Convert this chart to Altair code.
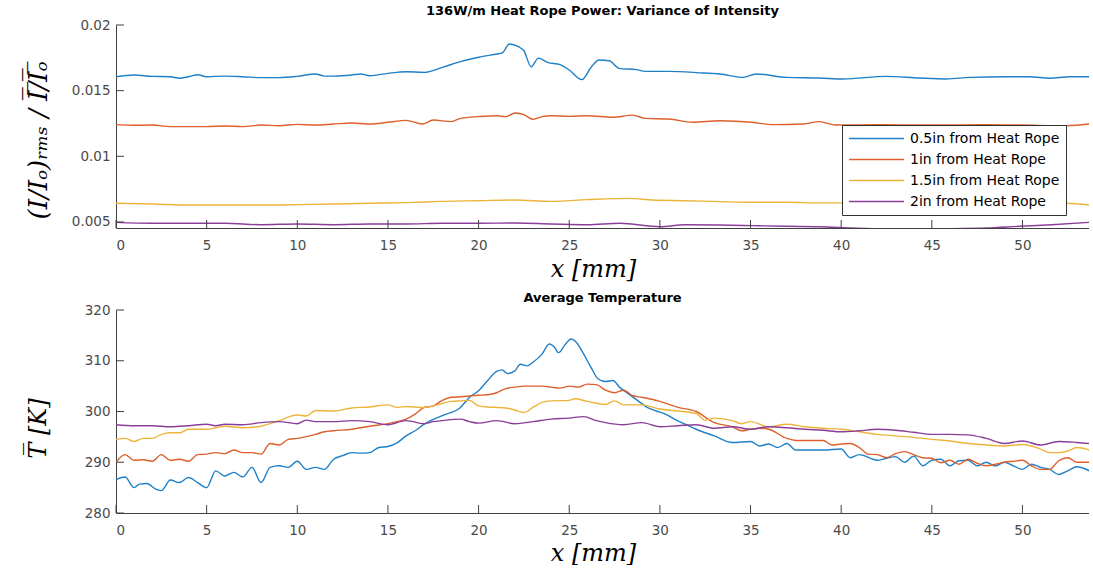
import altair as alt
import pandas as pd

series_names = ["0.5in from Heat Rope", "1in from Heat Rope",
                "1.5in from Heat Rope", "2in from Heat Rope"]
colors = ["#1f80c8", "#dd5f2c", "#edb43a", "#8a3e99"]

x_ticks = [0, 5, 10, 15, 20, 25, 30, 35, 40, 45, 50]
top_y_ticks = [0.005, 0.01, 0.015, 0.02]
bot_y_ticks = [280, 290, 300, 310, 320]

# ---------- top panel: variance of intensity ----------
top_blue_x = [0, 1, 2, 3, 3.5, 4, 4.5, 5, 6, 7, 8, 9, 10, 11, 11.5, 12, 13, 13.5, 14, 15,
              16, 17, 18, 19, 20, 21, 21.3, 21.7, 22.2, 22.5, 22.9, 23.3, 23.8, 24.5, 25,
              25.7, 26.2, 26.65, 27.2, 27.75, 28.7, 29.2, 30.5, 32.4, 33.3, 34.6, 35.3, 37,
              38.8, 40.1, 42.5, 44.3, 45.8, 47.1, 49, 50.4, 51.5, 52.6, 53.7]
top_blue_y = [0.01606, 0.01619, 0.01609, 0.01606, 0.01594, 0.01606, 0.01621, 0.01606,
              0.01611, 0.01606, 0.01599, 0.01599, 0.01609, 0.01627, 0.01611, 0.01611,
              0.01619, 0.01627, 0.01614, 0.01632, 0.01644, 0.01639, 0.01677, 0.01721,
              0.01754, 0.01779, 0.01787, 0.01855, 0.01835, 0.01804, 0.01682, 0.01748,
              0.01715, 0.01698, 0.01657, 0.01584, 0.01677, 0.01733, 0.01728, 0.01670,
              0.01660, 0.01647, 0.01647, 0.01634, 0.01627, 0.01601, 0.01627, 0.01601,
              0.01596, 0.01589, 0.01609, 0.01596, 0.01589, 0.01601, 0.01606, 0.01606,
              0.01594, 0.01606, 0.01606]

top_orange_x = [0, 1, 2, 3, 4, 5, 6, 7, 8, 9, 10, 11, 12, 13, 14, 15, 16, 16.9, 17.5, 18.5,
                19, 20, 21, 21.5, 22, 22.5, 23, 23.5, 24, 25, 26, 27.4, 28.5, 29.2, 30.5,
                31.8, 33.3, 35.1, 36.2, 37.9, 38.8, 39.7, 42, 45, 48, 50, 52.4, 53.7]
top_orange_y = [0.01241, 0.01236, 0.01238, 0.01226, 0.01226, 0.01226, 0.01231, 0.01226,
                0.01238, 0.01233, 0.01243, 0.01238, 0.01246, 0.01254, 0.01246, 0.01259,
                0.01274, 0.01246, 0.01276, 0.01264, 0.01289, 0.01302, 0.01309, 0.01302,
                0.01330, 0.01317, 0.01282, 0.01302, 0.01309, 0.01304, 0.01309, 0.01297,
                0.01314, 0.01289, 0.01284, 0.01259, 0.01271, 0.01259, 0.01241, 0.01246,
                0.01264, 0.01238, 0.01241, 0.01238, 0.01241, 0.01238, 0.01233, 0.01246]

top_yellow_x = [0, 2, 4, 6, 8, 10, 12, 14, 16, 18, 20, 22, 24, 26, 28.3, 29.6, 31.4, 33.3,
                35.1, 37, 38.8, 42, 46, 50, 52.4, 53.7]
top_yellow_y = [0.00642, 0.00637, 0.00629, 0.00629, 0.00629, 0.00632, 0.00637, 0.00642,
                0.00647, 0.00657, 0.00662, 0.00667, 0.00657, 0.00670, 0.00680, 0.00667,
                0.00662, 0.00655, 0.00650, 0.00650, 0.00645, 0.00645, 0.00642, 0.00642,
                0.00642, 0.00629]

top_purple_x = [0, 2, 4, 6, 8, 10, 12, 14, 16, 18, 20, 22, 24, 26, 27.8, 30, 31.4, 33.3,
                35.1, 37, 38.8, 40.6, 42.5, 44.3, 46.1, 48, 49.8, 51.6, 53.7]
top_purple_y = [0.00497, 0.00490, 0.00490, 0.00490, 0.00479, 0.00485, 0.00479, 0.00485,
                0.00485, 0.00490, 0.00490, 0.00492, 0.00485, 0.00479, 0.00490, 0.00464,
                0.00479, 0.00477, 0.00472, 0.00467, 0.00464, 0.00454, 0.00446, 0.00444,
                0.00449, 0.00454, 0.00467, 0.00479, 0.00497]

# ---------- bottom panel: average temperature ----------
bot_blue_x = [0, 0.3, 0.5, 1, 1.3, 1.7, 2.2, 2.5, 3, 3.5, 4, 4.5, 5, 5.5, 6, 6.5, 7, 7.5, 8,
              8.5, 9, 9.5, 10, 10.5, 11, 11.5, 12, 12.5, 13, 13.5, 14, 14.5, 15, 15.5, 16,
              16.5, 17, 18, 19, 19.5, 20, 20.5, 21, 21.3, 21.6, 22, 22.3, 22.7, 23, 23.5,
              23.9, 24.2, 24.4, 24.8, 25.1, 25.4, 25.8, 26.2, 26.6, 27, 27.4, 27.8, 28.3,
              28.8, 29.3, 29.8, 30.3, 30.8, 31.4, 32, 33, 34, 35, 35.5, 36, 36.5, 37, 37.5,
              38, 39, 40, 40.5, 41, 42, 43, 43.5, 44, 44.5, 45, 45.5, 46, 46.5, 47, 47.5,
              48, 48.5, 49, 49.5, 50, 50.5, 51, 51.5, 52, 52.5, 53, 53.7]
bot_blue_y = [286.5, 287, 287.1, 285, 285.7, 285.8, 284.7, 284.4, 286.5, 286, 287, 286, 285,
              288.3, 287.3, 288, 287.1, 289, 286, 289, 289.3, 289, 290.2, 288.6, 289, 288.6,
              290.6, 291.3, 291.9, 291.8, 291.9, 292.9, 293.1, 293.8, 295.2, 296.2, 297.5,
              299.2, 300.8, 302.8, 304.1, 306.1, 307.9, 308.2, 307.5, 308, 309.3, 309, 309.7,
              311.3, 313.3, 312.6, 311.6, 313.3, 314.3, 313.6, 311.3, 308.7, 306.4, 305.9,
              306.1, 304.7, 303.4, 302.1, 300.8, 300.1, 299.5, 298.5, 297.5, 296.5, 295.2,
              293.9, 294.1, 293.2, 293.6, 292.9, 293.7, 292.4, 292.4, 292.4, 292.6, 290.9,
              291.5, 290.4, 291.1, 290, 291.2, 289.3, 290.4, 290.6, 289.3, 290.3, 290.4,
              289.3, 290, 289.3, 290, 289.3, 288.6, 289.6, 289, 288.6, 287.6, 288.3, 289.1,
              288.3]

bot_orange_x = [0, 0.5, 1, 1.5, 2, 2.5, 3, 3.5, 4, 4.5, 5, 5.5, 6, 6.5, 7, 7.5, 8, 8.5, 9,
                9.5, 10, 11, 11.5, 12, 13, 14, 15, 15.5, 16, 16.5, 17, 17.5, 18, 18.5, 19,
                20, 20.5, 21, 21.5, 22, 22.5, 23, 23.5, 24, 24.5, 25, 25.5, 26, 26.5, 27,
                27.5, 28, 28.5, 29, 30, 31, 32, 33, 34, 34.5, 35, 35.5, 36, 37, 37.5, 38,
                39, 39.5, 40, 40.5, 41, 41.5, 42, 42.5, 43, 43.5, 44, 44.5, 45, 45.5, 46,
                46.5, 47, 47.5, 48, 48.5, 49, 49.5, 50, 50.5, 51, 51.5, 52, 52.5, 53, 53.7]
bot_orange_y = [290, 291.5, 290.4, 290.5, 290.2, 291.5, 290.4, 290.6, 290.2, 291.5, 291.6,
                291.9, 291.7, 292.4, 291.9, 291.9, 291.6, 293.7, 293.4, 294.5, 294.7, 295.5,
                296, 296.2, 296.5, 297.1, 297.6, 298, 298.5, 299.5, 300.8, 301.1, 302.2,
                302.8, 302.9, 303.2, 303.3, 303.7, 304.5, 304.8, 305, 305, 305, 304.8, 304.6,
                305, 304.8, 305.4, 305.3, 304.2, 303.7, 304.2, 303.1, 302.8, 302, 300.8, 300,
                297.8, 297, 296.2, 296.5, 296.7, 296.5, 294.7, 294.3, 294.3, 294.3, 293.4,
                293.6, 293.7, 292.9, 291.6, 291.5, 290.9, 291.7, 292.1, 291.5, 290.9, 290.8,
                289.9, 290.4, 289.6, 290.6, 289.8, 289.3, 289.6, 290, 290.2, 290.4, 289.3,
                288.6, 288.6, 290.3, 290.9, 290, 290]

bot_yellow_x = [0, 0.5, 1, 1.5, 2, 2.5, 3, 3.5, 4, 5, 5.5, 6, 7, 8, 9, 10, 10.5, 11, 12, 13,
                14, 15, 15.5, 16, 17, 17.5, 18.5, 19, 19.5, 20, 20.5, 21, 21.5, 22, 22.5, 23,
                23.5, 24, 25, 25.3, 26, 27, 27.5, 28, 29, 30, 31, 32, 32.5, 33, 34, 34.5, 35,
                36, 37, 38, 39, 40, 41, 42, 43, 44, 45, 46, 47, 48, 49, 50, 51, 51.5, 52,
                52.5, 53, 53.7]
bot_yellow_y = [294.5, 294.7, 294.1, 294.7, 294.7, 295.5, 295.8, 295.8, 296.5, 296.5, 296.8,
                297.1, 296.8, 297.1, 298.2, 299.3, 299.1, 300.2, 300.1, 300.7, 300.9, 301.3,
                300.8, 301, 300.8, 301.1, 302, 302.1, 302.2, 301.1, 300.9, 300.8, 300.7,
                300.3, 299.8, 300.8, 301.8, 302.1, 302.2, 302.5, 302, 301.4, 302.1, 301.3,
                301.3, 300.5, 300.1, 299.6, 298.3, 298.7, 298.2, 297.6, 298, 297, 297.5, 297,
                296.7, 296.5, 296, 295.5, 295.2, 294.9, 294.5, 294.2, 293.7, 293.4, 293.2,
                293.5, 292.6, 291.9, 291.9, 292.2, 292.9, 292.4]

bot_purple_x = [0, 1, 2, 3, 4, 5, 5.5, 6, 7, 8, 9, 10, 10.5, 11, 12, 13, 14, 15, 16, 17,
                17.5, 18, 19, 19.5, 20, 21, 22, 23, 24, 25, 25.8, 26.5, 27, 28, 29, 30, 31,
                32, 33, 34, 35, 36, 37, 38, 39, 40, 41, 42, 43, 44, 45, 46, 47, 48, 49, 50,
                51, 52, 53, 53.7]
bot_purple_y = [297.4, 297.2, 297.2, 297, 297.2, 297.5, 297.2, 297.5, 297.4, 297.8, 298,
                297.6, 298.3, 298, 298, 298.2, 298, 297.4, 298.2, 297.6, 298, 298.2, 298.5,
                298, 297.7, 298.2, 297.6, 298, 298.5, 298.7, 299, 298.2, 297.8, 297.4, 297.8,
                297, 297.2, 297.4, 296.7, 297, 296.5, 297, 296.8, 296.5, 296.3, 296, 296.2,
                296.5, 296.3, 295.9, 295.5, 295.5, 295.4, 294.7, 293.7, 294.2, 293.4, 294.1,
                293.9, 293.7]


def frame(xs_list, ys_list):
    rows = []
    for name, xs, ys in zip(series_names, xs_list, ys_list):
        for a, b in zip(xs, ys):
            rows.append({"x": a, "y": b, "series": name})
    return pd.DataFrame(rows)


top_df = frame([top_blue_x, top_orange_x, top_yellow_x, top_purple_x],
               [top_blue_y, top_orange_y, top_yellow_y, top_purple_y])
bot_df = frame([bot_blue_x, bot_orange_x, bot_yellow_x, bot_purple_x],
               [bot_blue_y, bot_orange_y, bot_yellow_y, bot_purple_y])

W, H = 973, 203
TICK = 8
X_DOMAIN = [0, 53.67]
AXIS_COLOR = "#404040"

label_style = dict(labelFont="DejaVu Sans", labelFontSize=13.5, labelColor="#4a4a4a",
                   titleFont="DejaVu Serif", titleFontStyle="italic", titleFontWeight="normal",
                   titleColor="#000000", domainColor=AXIS_COLOR, domainWidth=1,
                   ticks=False, grid=False)


def panel(df, y_domain, y_ticks, y_fmt, y_title, y_title_size, y_title_y, x_title_y,
          title, title_dy, legend):
    xs = alt.X("x:Q", scale=alt.Scale(domain=X_DOMAIN, nice=False, zero=False),
               axis=alt.Axis(values=x_ticks, format="d", title="x [mm]", titleFontSize=24,
                             labelPadding=10, titleX=477, titleY=x_title_y,
                             titleBaseline="middle", **label_style))
    ys = alt.Y("y:Q", scale=alt.Scale(domain=y_domain, nice=False, zero=False),
               axis=alt.Axis(values=y_ticks, format=y_fmt, title=y_title,
                             titleFontSize=y_title_size, labelPadding=6, titleX=-78,
                             titleY=y_title_y, titleAngle=270, titleBaseline="middle",
                             titleAlign="center", **label_style))
    color = alt.Color("series:N", sort=series_names,
                      scale=alt.Scale(domain=series_names, range=colors),
                      legend=legend)
    lines = alt.Chart(df).mark_line(strokeWidth=1.4, clip=True, interpolate="monotone").encode(
        x=xs, y=ys, color=color, detail="series:N")
    xt = alt.Chart(pd.DataFrame({"x": x_ticks})).mark_rule(color=AXIS_COLOR, strokeWidth=1).encode(
        x=xs, y=alt.value(H), y2=alt.value(H - TICK))
    yt = alt.Chart(pd.DataFrame({"y": y_ticks})).mark_rule(color=AXIS_COLOR, strokeWidth=1).encode(
        y=ys, x=alt.value(0), x2=alt.value(TICK))
    return alt.layer(lines, xt, yt).properties(
        width=W, height=H,
        title=alt.TitleParams(title, font="DejaVu Sans", fontSize=13, fontWeight="bold",
                              color="#000000", anchor="middle", frame="group",
                              baseline="alphabetic", offset=9, dy=title_dy))


legend_top = alt.Legend(title=None, orient="none", legendX=726, legendY=100,
                        symbolType="stroke", symbolSize=3025, symbolStrokeWidth=1.5,
                        labelFont="DejaVu Sans", labelFontSize=14, labelColor="#000000",
                        fillColor="#ffffff", strokeColor="#333333", padding=6, rowPadding=6,
                        labelOffset=5, labelLimit=400, clipHeight=15, direction="vertical")

top = panel(top_df, [0.00454, 0.02], top_y_ticks, "~g",
            "(I/Iₒ)ᵣₘₛ / I̅/̅I̅ₒ̅", 26, 115, 41,
            "136W/m Heat Rope Power: Variance of Intensity", 19, legend_top)
bottom = panel(bot_df, [280, 320], bot_y_ticks, "d", "T̅ [K]", 24, 118, 40,
               "Average Temperature", 21, None)

chart = alt.vconcat(top, bottom, spacing=82, bounds="flush").resolve_legend(
    color="independent"
).properties(
    padding={"left": 25, "top": 5, "right": 0, "bottom": 0},
    background="#ffffff",
).configure_view(stroke=None)

chart.save("out.html", embed_options={"renderer": "svg", "actions": False})
